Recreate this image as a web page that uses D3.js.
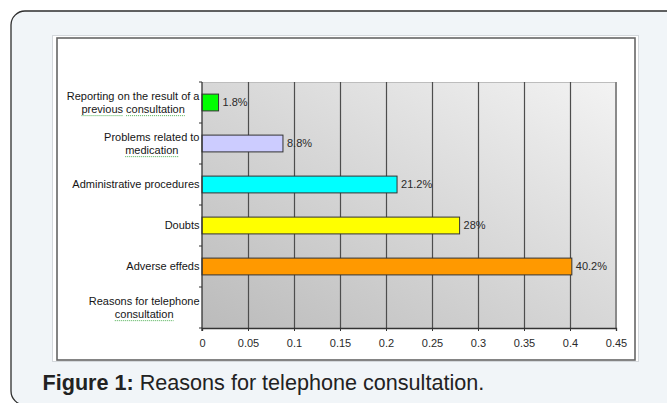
<!DOCTYPE html>
<html><head><meta charset="utf-8">
<script src="https://cdn.jsdelivr.net/npm/d3@7"></script>
<style>
html,body{margin:0;padding:0;background:#fff;}
svg{display:block;font-family:"Liberation Sans",Arial,sans-serif;}
</style></head>
<body>
<svg id="c" width="667" height="403"></svg>
<script>
// ---- data ----
const categories = ["Reporting on the result of a previous consultation","Problems related to medication","Administrative procedures","Doubts","Adverse effeds","Reasons for telephone consultation"];
const categoryLines = [["Reporting on the result of a","previous consultation"],["Problems related to","medication"],["Administrative procedures"],["Doubts"],["Adverse effeds"],["Reasons for telephone","consultation"]];
const values = [0.018, 0.088, 0.212, 0.28, 0.402, null];
const valueLabels = ["1.8%","8.8%","21.2%","28%","40.2%",""];
const barColors = ["#00ff00","#ccccff","#00ffff","#ffff00","#ff9900",null];
const xTicks = [0,0.05,0.1,0.15,0.2,0.25,0.3,0.35,0.4,0.45];
const xTickLabels = ["0","0.05","0.1","0.15","0.2","0.25","0.3","0.35","0.4","0.45"];
const underlinedWords = ["previous","medication","consultation"];
const captionBold = "Figure 1:";
const captionText = " Reasons for telephone consultation.";

const svg = d3.select("#c");

// page frame
svg.append("rect").attr("x",0).attr("y",0).attr("width",667).attr("height",403).attr("fill","#ffffff");
svg.append("rect").attr("x",11).attr("y",11).attr("width",680).attr("height",394).attr("rx",14)
  .attr("fill","#f1f5f8").attr("stroke","#2e2e2e").attr("stroke-width",1.3);

// chart box
svg.append("rect").attr("x",52.5).attr("y",35.5).attr("width",586).attr("height",326)
  .attr("fill","#ffffff").attr("stroke","#d4d8dc").attr("stroke-width",1);
svg.append("rect").attr("x",57).attr("y",38).attr("width",578).attr("height",322)
  .attr("fill","#ffffff").attr("stroke","#666").attr("stroke-width",1.6);

const plot = {left:202, right:616, top:82, bottom:328};
const x = d3.scaleLinear().domain([0,0.45]).range([plot.left, plot.right]);
const y = d3.scaleBand().domain(categories).range([plot.top, plot.bottom]).padding(0);

// gradient background
const defs = svg.append("defs");
const g = defs.append("linearGradient").attr("id","bg").attr("x1",0).attr("y1",1).attr("x2",1).attr("y2",0);
g.append("stop").attr("offset","0%").attr("stop-color","#bbbbbb");
g.append("stop").attr("offset","100%").attr("stop-color","#f3f3f3");
svg.append("rect").attr("x",plot.left).attr("y",plot.top).attr("width",plot.right-plot.left).attr("height",plot.bottom-plot.top)
  .attr("fill","url(#bg)");

// top border
svg.append("line").attr("x1",plot.left).attr("x2",plot.right).attr("y1",plot.top+0.5).attr("y2",plot.top+0.5)
  .attr("stroke","#bdbdbd").attr("stroke-width",1);
// right border
svg.append("line").attr("x1",plot.right).attr("x2",plot.right).attr("y1",plot.top).attr("y2",plot.bottom)
  .attr("stroke","#8a8a8a").attr("stroke-width",2);

// grid lines
svg.append("g").selectAll("line").data(xTicks.filter(d=>d>0 && d<0.45)).join("line")
  .attr("x1",d=>Math.round(x(d))+0.5).attr("x2",d=>Math.round(x(d))+0.5)
  .attr("y1",plot.top).attr("y2",plot.bottom)
  .attr("stroke","#4d4d4d").attr("stroke-width",1.2);

// bars
const barH = y.bandwidth()*0.41;
const rows = categories.map((c,i)=>({c, v:values[i], lab:valueLabels[i], col:barColors[i]}));
svg.append("g").selectAll("rect").data(rows.filter(d=>d.v!=null)).join("rect")
  .attr("x",x(0)).attr("y",d=>y(d.c)+y.bandwidth()/2-barH/2)
  .attr("width",d=>x(d.v)-x(0)).attr("height",barH)
  .attr("fill",d=>d.col).attr("stroke","#333").attr("stroke-width",1);

// value labels
svg.append("g").selectAll("text").data(rows.filter(d=>d.v!=null)).join("text")
  .attr("x",d=>x(d.v)+4).attr("y",d=>y(d.c)+y.bandwidth()/2)
  .attr("dy","0.35em").attr("font-size",11).attr("fill","#2a2a2a").text(d=>d.lab);

// x axis
const xAxis = d3.axisBottom(x).tickValues(xTicks).tickFormat((d,i)=>xTickLabels[i]).tickSize(3).tickPadding(8);
const xa = svg.append("g").attr("transform",`translate(0,${plot.bottom})`).call(xAxis);
xa.select(".domain").attr("stroke","#333").attr("stroke-width",1.3);
xa.selectAll(".tick line").attr("stroke","#333");
xa.selectAll("text").attr("font-size",11).attr("fill","#2a2a2a").attr("font-family","Liberation Sans, Arial, sans-serif");

// y axis line & ticks (at band boundaries)
svg.append("line").attr("x1",plot.left).attr("x2",plot.left).attr("y1",plot.top).attr("y2",plot.bottom+3)
  .attr("stroke","#333").attr("stroke-width",1.3);
const bounds = categories.map(c=>y(c)).concat([plot.bottom]);
svg.append("g").selectAll("line").data(bounds).join("line")
  .attr("x1",plot.left-3).attr("x2",plot.left).attr("y1",d=>d).attr("y2",d=>d)
  .attr("stroke","#333").attr("stroke-width",1);

// category labels
const lineH = 13.3;
const labRight = 199.5;
const lg = svg.append("g").attr("font-size",11).attr("fill","#151515");
categories.forEach((c,i)=>{
  const lines = categoryLines[i];
  const cy = y(c)+y.bandwidth()/2;
  const temps = lines.map(l=>lg.append("text").text(l));
  const widths = temps.map(t=>t.node().getComputedTextLength());
  temps.forEach(t=>t.remove());
  const maxW = d3.max(widths);
  const cx = labRight - maxW/2;
  lines.forEach((l,j)=>{
    const ty = cy + (j-(lines.length-1)/2)*lineH;
    const t = lg.append("text").attr("x",cx).attr("y",ty).attr("dy","0.35em").attr("text-anchor","middle").text(l);
    underlinedWords.forEach(w=>{
      const idx = l.indexOf(w);
      if(idx>=0 && lines.length>1){
        const node = t.node();
        const start = cx - widths[j]/2 + (idx>0?node.getSubStringLength(0,idx):0);
        const wl = node.getSubStringLength(idx,w.length);
        lg.append("line").attr("x1",start).attr("x2",start+wl).attr("y1",ty+6.5).attr("y2",ty+6.5)
          .attr("stroke","#4caf50").attr("stroke-width",1).attr("stroke-dasharray","1,1");
      }
    });
  });
});

// caption
const cap = svg.append("text").attr("x",42.5).attr("y",390).attr("font-size",21.6).attr("fill","#222");
cap.append("tspan").attr("font-weight","bold").text(captionBold);
cap.append("tspan").attr("xml:space","preserve").style("white-space","pre").text(captionText);
</script>
</body></html>
